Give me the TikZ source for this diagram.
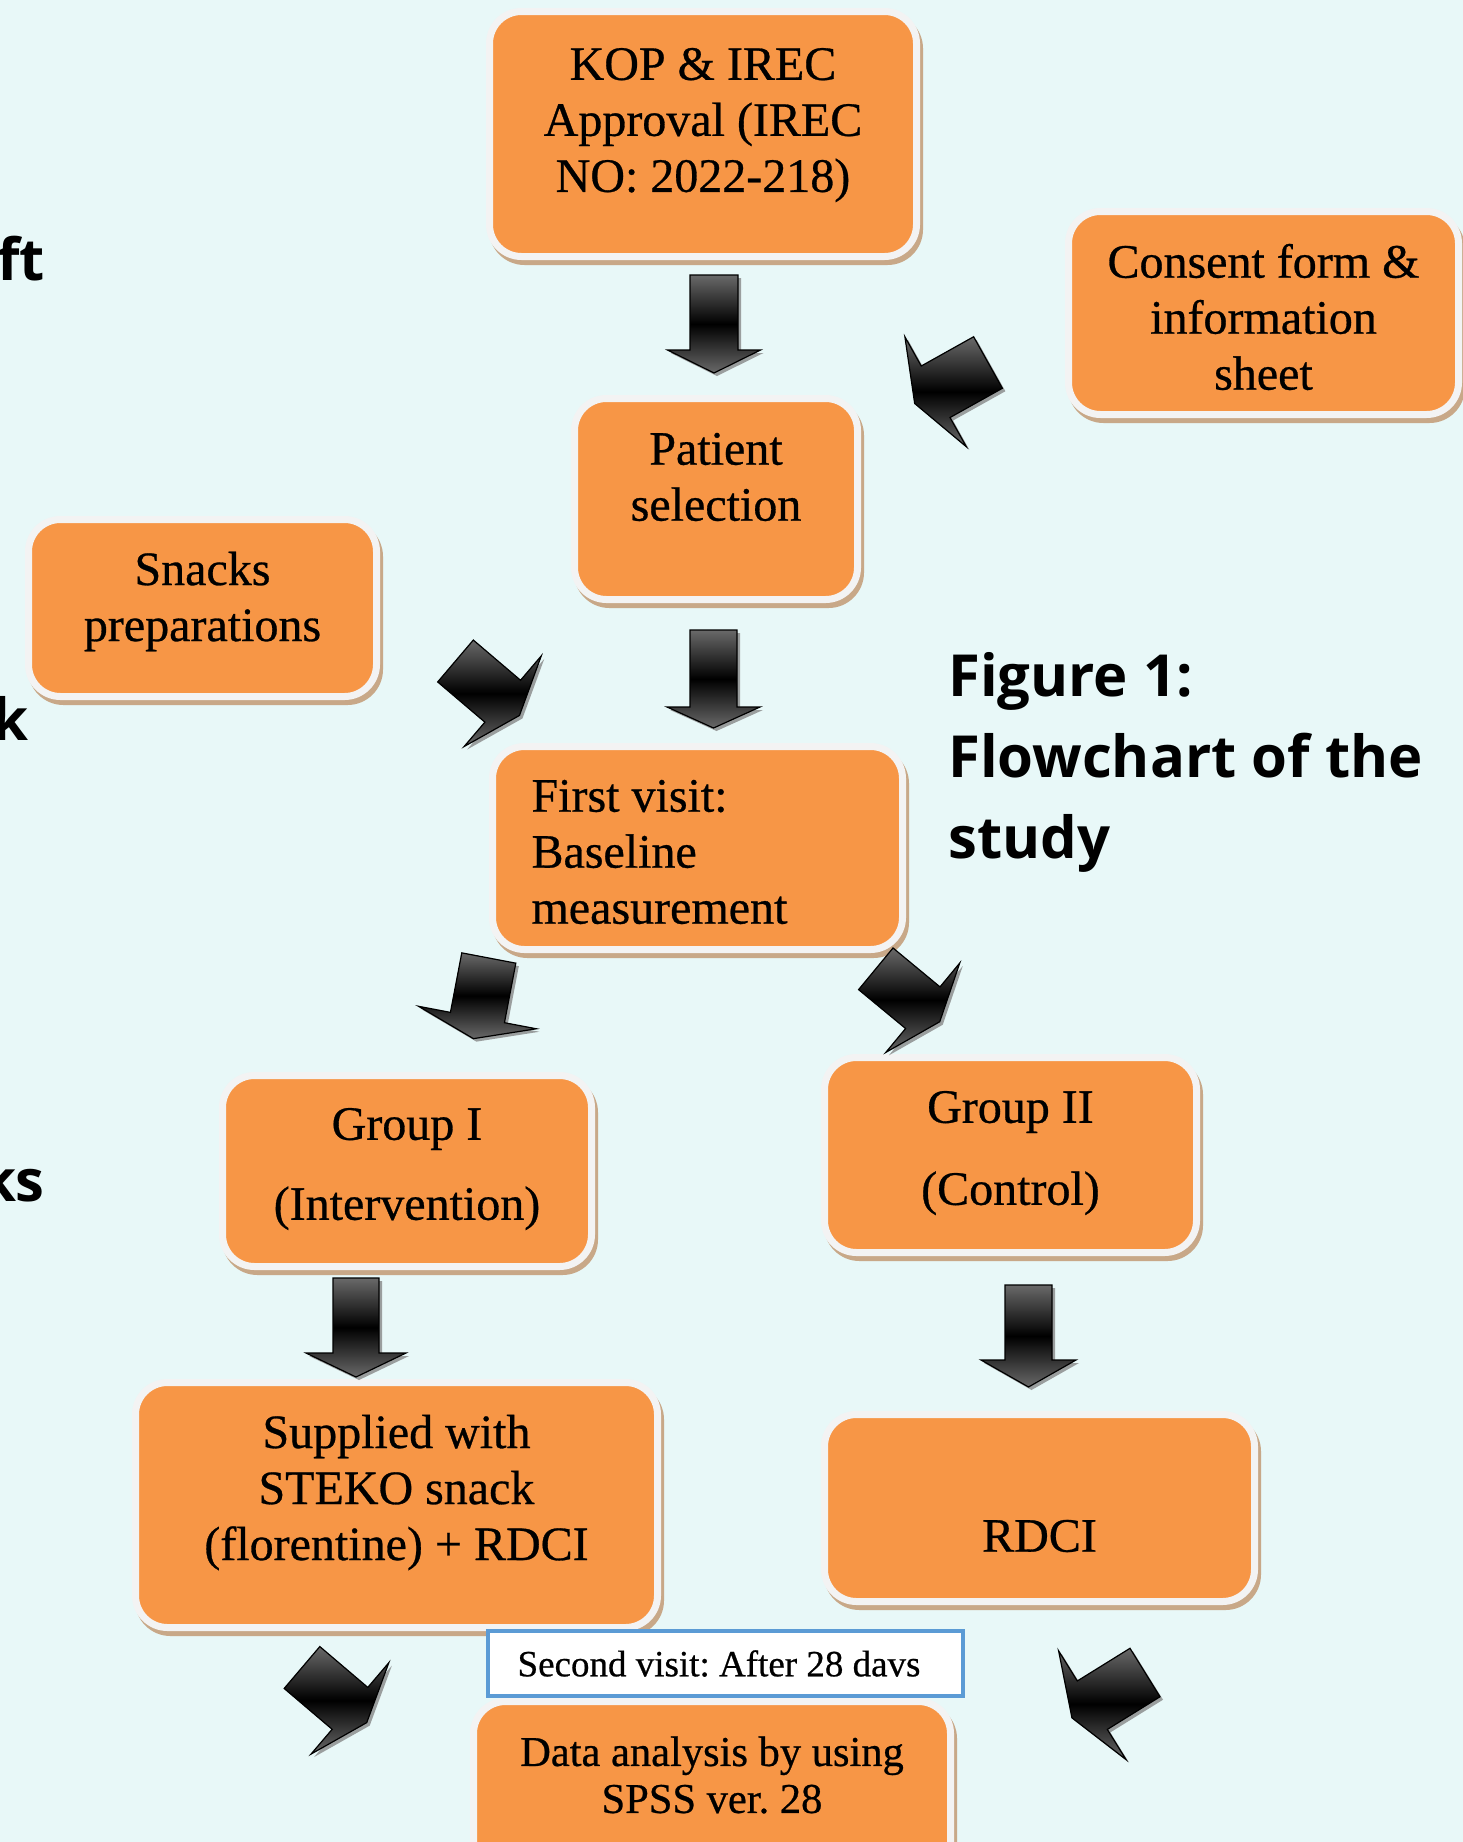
\documentclass[tikz,border=0pt]{standalone}
\usepackage{fontspec}
\setmainfont{Liberation Serif}[UprightFeatures={FakeBold=0.6}]
\newfontfamily\capfont{Open Sans}
\frenchspacing
\definecolor{bgc}{RGB}{232,248,248}
\definecolor{boxor}{RGB}{247,150,70}
\definecolor{boxrim}{RGB}{243,243,243}
\definecolor{boxshade}{RGB}{200,168,136}
\definecolor{visitblue}{RGB}{91,155,213}
\definecolor{arrgray}{RGB}{105,105,105}
\newcommand\bx[4]{\begin{minipage}[c][#2pt][c]{#1pt}\centering\vspace*{#3pt}#4\end{minipage}}
\newcommand\bxl[4]{\begin{minipage}[c][#2pt][c]{#1pt}\raggedright\leftskip=39pt\vspace*{#3pt}#4\end{minipage}}
\tikzset{
  box/.style={fill=boxor, draw=boxrim, line width=7pt, rounded corners=32pt, inner sep=0pt, text=black,
    font=\fontsize{48}{56}\selectfont,
    preaction={fill=boxshade, draw=boxshade, line width=7pt, transform canvas={xshift=3pt,yshift=-5pt}}},
  blockarr/.style={draw=black, line width=1.2pt, line join=miter,
    preaction={fill=black!50, opacity=0.75, transform canvas={xshift=3pt,yshift=-3pt}},
    top color=arrgray, bottom color=arrgray, middle color=black},
  capstyle/.style={inner sep=0pt, font=\capfont\bfseries\fontsize{58}{81}\selectfont, text=black},
}
% coordinate, angle, shaft length, shaft width, head length, head width
\newcommand\blockarrow[6]{%
  \path[blockarr, shift={(#1)}, rotate=#2]
    (0,{-(#4)/2}) -- (#3,{-(#4)/2}) -- (#3,{-(#6)/2}) -- ({#3+#5},0) -- (#3,{(#6)/2}) -- (#3,{(#4)/2}) -- (0,{(#4)/2}) -- cycle;}
\begin{document}
\begin{tikzpicture}[x=1pt,y=-1pt]
\fill[bgc] (0,0) rectangle (1463,1842);
\useasboundingbox (0,0) rectangle (1463,1842);

% cut-off text on the left edge
\node[capstyle, anchor=base east] (fr1) at (45,280) {ft};
\node[capstyle, anchor=base east] (fr2) at (29,740) {k};
\node[capstyle, anchor=base east] (fr3) at (45,1201) {ks};

% caption
\node[capstyle, anchor=north west, align=left] (cap) at (948,652) {Figure 1:\\Flowchart of the\\study};

% boxes
\node[box] (kop) at (703,134) {\bx{427}{245}{-18}{KOP \& IREC\\Approval (IREC\\NO: 2022-218)}};
\node[box] (consent) at (1263.5,313) {\bx{390}{203}{8}{Consent form \&\\information\\sheet}};
\node[box] (patient) at (716,499) {\bx{283}{201}{-44}{Patient\\selection}};
\node[box] (snacks) at (202.5,608) {\bx{348}{177}{-13}{Snacks\\preparations}};
\node[box] (first) at (697.5,848) {\bxl{410}{203}{8}{First visit:\\Baseline\\measurement}};
\node[box] (g1) at (407,1171) {\bx{369}{191}{-4}{Group I\\[24pt](Intervention)}};
\node[box] (g2) at (1010.5,1155) {\bx{372}{195}{-4}{Group II\\[26pt](Control)}};
\node[box] (supp) at (396.5,1505) {\bx{522}{245}{-25}{Supplied with\\STEKO snack\\(florentine) + RDCI}};
\node[box] (rdci) at (1039.5,1508) {\bx{430}{187}{56}{RDCI}};
\node[box, font=\fontsize{42.5}{47}\selectfont] (data) at (712,1805) {\bx{477}{207}{-60}{Data analysis by using\\SPSS ver. 28}};
\node[fill=white, draw=visitblue, line width=4.5pt, minimum width=475pt, minimum height=65pt, inner sep=0pt,
  font=\fontsize{37}{42}\selectfont] (visit) at (725.5,1663.5) {Second visit: After 28 davs\kern13pt};

% block arrows
\coordinate (a1) at (714,275);
\coordinate (a2) at (713.5,630);
\coordinate (a3) at (988,362.5);
\coordinate (a4) at (455.5,661);
\coordinate (a5) at (488.8,958);
\coordinate (a6) at (875.8,968.8);
\coordinate (a7) at (356,1278);
\coordinate (a8) at (1028.5,1285);
\coordinate (a9) at (302,1667.5);
\coordinate (a10) at (1145,1672.5);
\blockarrow{a1}{-90}{75}{48}{23}{93}
\blockarrow{a2}{-90}{77}{47}{21}{93}
\blockarrow{a3}{-150.8}{60}{59}{24}{126}
\blockarrow{a4}{-40.4}{62}{55}{22}{119}
\blockarrow{a5}{-100.8}{60.6}{55}{21.5}{120}
\blockarrow{a6}{-39.6}{61}{54}{22}{116}
\blockarrow{a7}{-90}{75}{46}{24}{100}
\blockarrow{a8}{-90}{75}{47}{27}{95}
\blockarrow{a9}{-40.4}{63}{55}{22}{120}
\blockarrow{a10}{-148.2}{62}{57}{24}{128}
\end{tikzpicture}
\end{document}
